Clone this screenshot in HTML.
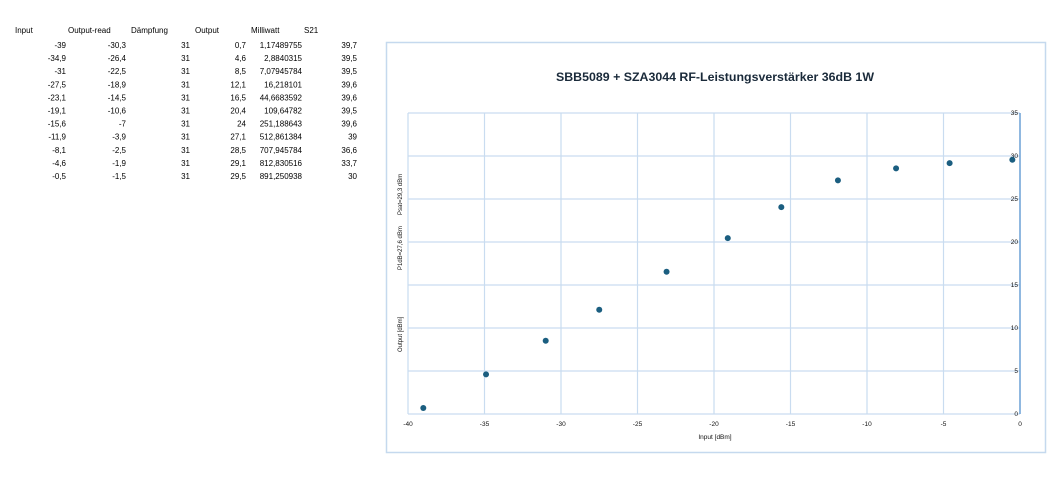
<!DOCTYPE html>
<html><head><meta charset="utf-8"><style>
body{margin:0;background:#fff;width:1053px;height:477px;overflow:hidden;font-family:"Liberation Sans",sans-serif;}
.t{position:absolute;font-size:8px;color:#000;}
</style></head><body>
<div class="t" style="left:15px;top:26px">Input</div>
<div class="t" style="left:68px;top:26px">Output-read</div>
<div class="t" style="left:131px;top:26px">Dämpfung</div>
<div class="t" style="left:195px;top:26px">Output</div>
<div class="t" style="left:251px;top:26px">Milliwatt</div>
<div class="t" style="left:304px;top:26px">S21</div>
<svg width="1053" height="477" style="position:absolute;left:0;top:0" font-family="Liberation Sans, sans-serif">
<g font-size="8" fill="#000" text-anchor="end" id="tbl"></g>
<rect x="386.5" y="42.5" width="659" height="410" fill="#fff" stroke="#c5d9ee" stroke-width="1.5"/>
<text x="715" y="81" font-size="12" font-weight="bold" text-anchor="middle" fill="#1a2a3a" textLength="318" lengthAdjust="spacingAndGlyphs">SBB5089 + SZA3044  RF-Leistungsverstärker 36dB 1W</text>
<g stroke="#c9dcf0" stroke-width="1.2" id="grid"></g>
<line x1="1020" y1="113" x2="1020" y2="414" stroke="#6fa3d6" stroke-width="1.5"/>
<g font-size="6.5" fill="#111" id="lbl"></g>
<text x="715" y="439" font-size="6.5" text-anchor="middle" fill="#111">Input [dBm]</text>
<g font-size="6" fill="#111">
<text transform="translate(402,352) rotate(-90)" >Output [dBm]</text>
<text transform="translate(402,270) rotate(-90)">P1dB=27,6 dBm</text>
<text transform="translate(402,215) rotate(-90)">Psat=29,3 dBm</text>
</g>
<g fill="#1b5e80" id="pts"></g>
</svg>
<script>
var ns="http://www.w3.org/2000/svg";
function el(p,t,a,tx){var e=document.createElementNS(ns,t);for(var k in a)e.setAttribute(k,a[k]);if(tx!=null)e.textContent=tx;document.getElementById(p).appendChild(e);}
var rows=[["-39","-30,3","31","0,7","1,17489755","39,7"],["-34,9","-26,4","31","4,6","2,8840315","39,5"],["-31","-22,5","31","8,5","7,07945784","39,5"],["-27,5","-18,9","31","12,1","16,218101","39,6"],["-23,1","-14,5","31","16,5","44,6683592","39,6"],["-19,1","-10,6","31","20,4","109,64782","39,5"],["-15,6","-7","31","24","251,188643","39,6"],["-11,9","-3,9","31","27,1","512,861384","39"],["-8,1","-2,5","31","28,5","707,945784","36,6"],["-4,6","-1,9","31","29,1","812,830516","33,7"],["-0,5","-1,5","31","29,5","891,250938","30"]];
var cx=[66,126,190,246,302,357];
rows.forEach(function(r,i){var y=48+i*13.1;r.forEach(function(v,j){el("tbl","text",{x:cx[j],y:y},v);});
var x=1020+parseFloat(r[0].replace(",","."))*15.3,yy=414-parseFloat(r[3].replace(",","."))*8.62;el("pts","circle",{cx:x,cy:yy,r:3});});
for(var i=0;i<=8;i++){var x=408+i*76.5;el("grid","line",{x1:x,y1:113,x2:x,y2:414});el("lbl","text",{x:x,y:426,"text-anchor":"middle"},String(-40+i*5));}
for(var j=0;j<=7;j++){var y=414-j*43;el("grid","line",{x1:408,y1:y,x2:1020,y2:y});el("lbl","text",{x:1018,y:y+2,"text-anchor":"end"},String(j*5));}
</script>
</body></html>
